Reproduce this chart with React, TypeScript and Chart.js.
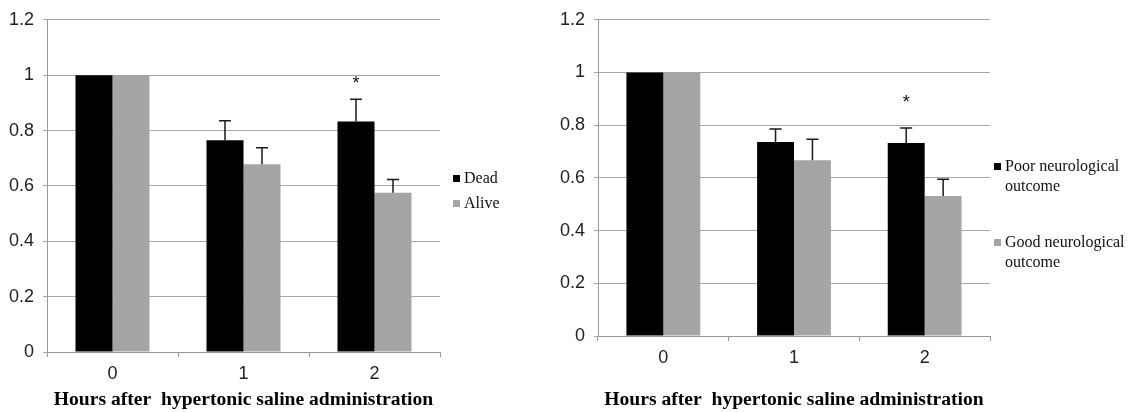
import React, { useEffect, useRef } from "react";
import { Chart, registerables } from "chart.js";

Chart.register(...registerables);

// ---------- data ----------
const categories = ["0", "1", "2"];
const xTitle = "Hours after  hypertonic saline administration";

const leftLegend = [["Dead"], ["Alive"]];
const deadValues = [1, 0.765, 0.833];
const deadErrors = [0, 0.07, 0.08];
const aliveValues = [1, 0.678, 0.575];
const aliveErrors = [0, 0.06, 0.048];
const leftStars = ["", "", "*"];
const leftStarLevels = [0, 0, 0.98];

const rightLegend = [["Poor neurological", "outcome"], ["Good neurological", "outcome"]];
const poorValues = [1, 0.736, 0.732];
const poorErrors = [0, 0.05, 0.057];
const goodValues = [1, 0.667, 0.531];
const goodErrors = [0, 0.08, 0.064];
const rightStars = ["", "", "*"];
const rightStarLevels = [0, 0, 0.895];

const yMin = 0;
const yMax = 1.2;
const yStep = 0.2;

const BLACK = "#000000";
const GRAY = "#a5a5a5";
const GRID = "#a8a8a8";
const AXIS = "#9a9a9a";

const errorBarPlugin = {
  id: "errorBars",
  afterDatasetsDraw(chart: any, _args: any, opts: any) {
    const ctx = chart.ctx;
    const yScale = chart.scales.y;
    ctx.save();
    ctx.strokeStyle = "#1a1a1a";
    ctx.lineWidth = 1.5;
    chart.data.datasets.forEach((ds: any, i: number) => {
      const meta = chart.getDatasetMeta(i);
      const errs = opts.errors[i];
      meta.data.forEach((el: any, j: number) => {
        const e = errs[j];
        if (!e) return;
        const top = yScale.getPixelForValue(ds.data[j] + e);
        ctx.beginPath();
        ctx.moveTo(el.x, el.y);
        ctx.lineTo(el.x, top);
        ctx.moveTo(el.x - 6, top);
        ctx.lineTo(el.x + 6, top);
        ctx.stroke();
      });
    });
    const meta0 = chart.getDatasetMeta(0);
    ctx.fillStyle = "#111";
    ctx.font = "18px 'Liberation Sans'";
    ctx.textAlign = "center";
    ctx.textBaseline = "middle";
    opts.stars.forEach((s: string, j: number) => {
      if (!s) return;
      const el = meta0.data[j];
      ctx.fillText(s, el.x, yScale.getPixelForValue(opts.starLevels[j]) + 3);
    });
    ctx.restore();
  },
};

const customLegendPlugin = {
  id: "customLegend",
  afterDraw(chart: any, _args: any, opts: any) {
    const ctx = chart.ctx;
    const area = chart.chartArea;
    ctx.save();
    ctx.font = "16px 'Liberation Serif'";
    ctx.textBaseline = "middle";
    ctx.textAlign = "left";
    opts.items.forEach((lines: string[], i: number) => {
      const yc = opts.yStarts[i];
      const x = area.right + opts.dx;
      ctx.fillStyle = opts.colors[i];
      ctx.fillRect(x, yc - 4, 7, 7);
      ctx.fillStyle = "#111";
      lines.forEach((line, k) => {
        ctx.fillText(line, x + 11, yc + k * 20);
      });
    });
    ctx.restore();
  },
};

type PanelProps = {
  left: number;
  width: number;
  yWidth: number;
  xHeight: number;
  rightPad: number;
  labels: string[][];
  series: number[][];
  errors: number[][];
  stars: string[];
  starLevels: number[];
  legendDx: number;
  legendY: number[];
};

function Panel(p: PanelProps) {
  const ref = useRef<HTMLCanvasElement | null>(null);
  useEffect(() => {
    if (!ref.current) return;
    const tickFont = { family: "'Liberation Sans'", size: 18 };
    const chart = new Chart(ref.current, {
      type: "bar",
      data: {
        labels: categories,
        datasets: [
          {
            label: p.labels[0].join(" "),
            data: p.series[0],
            backgroundColor: BLACK,
            borderWidth: 0,
            barPercentage: 1,
            categoryPercentage: 0.565,
          },
          {
            label: p.labels[1].join(" "),
            data: p.series[1],
            backgroundColor: GRAY,
            borderWidth: 0,
            barPercentage: 1,
            categoryPercentage: 0.565,
          },
        ],
      },
      options: {
        animation: false,
        responsive: false,
        maintainAspectRatio: false,
        layout: { padding: { top: 18, right: p.rightPad, bottom: 0, left: 0 } },
        plugins: {
          legend: { display: false },
          tooltip: { enabled: false },
          errorBars: { errors: p.errors, stars: p.stars, starLevels: p.starLevels },
          customLegend: {
            items: p.labels,
            colors: [BLACK, GRAY],
            dx: p.legendDx,
            yStarts: p.legendY,
          },
        } as any,
        scales: {
          x: {
            grid: {
              offset: true,
              drawOnChartArea: false,
              color: AXIS,
              tickLength: 5,
            },
            border: { color: AXIS, width: 1 },
            ticks: { font: tickFont, color: "#222", padding: 6 },
            title: {
              display: true,
              text: xTitle,
              color: "#000",
              font: { family: "'Liberation Serif'", weight: "bold", size: 19.6 },
              padding: { top: 0, bottom: 0 },
            },
            afterFit: (s: any) => {
              s.height = p.xHeight;
            },
          },
          y: {
            min: yMin,
            max: yMax,
            ticks: {
              stepSize: yStep,
              font: tickFont,
              color: "#222",
              padding: 9,
              callback: (v: any) => String(Math.round(Number(v) * 10) / 10),
            },
            grid: { color: GRID, tickLength: 4 },
            border: { color: AXIS, width: 1 },
            afterFit: (s: any) => {
              s.width = p.yWidth;
            },
          },
        },
      },
      plugins: [errorBarPlugin, customLegendPlugin],
    });
    return () => chart.destroy();
  }, []);
  return (
    <canvas
      ref={ref}
      width={p.width}
      height={412}
      style={{ position: "absolute", left: p.left, top: 0, width: p.width, height: 412, display: "block" }}
    />
  );
}

export default function App() {
  return (
    <div style={{ position: "fixed", left: 0, top: 0, width: 1130, height: 412, background: "#fff", overflow: "hidden" }}>
      <Panel
        left={0}
        width={560}
        yWidth={47}
        xHeight={60}
        rightPad={120}
        labels={leftLegend}
        series={[deadValues, aliveValues]}
        errors={[deadErrors, aliveErrors]}
        stars={leftStars}
        starLevels={leftStarLevels}
        legendDx={13}
        legendY={[179, 204]}
      />
      <Panel
        left={560}
        width={570}
        yWidth={38}
        xHeight={76}
        rightPad={140}
        labels={rightLegend}
        series={[poorValues, goodValues]}
        errors={[poorErrors, goodErrors]}
        stars={rightStars}
        starLevels={rightStarLevels}
        legendDx={4}
        legendY={[167, 243]}
      />
    </div>
  );
}
